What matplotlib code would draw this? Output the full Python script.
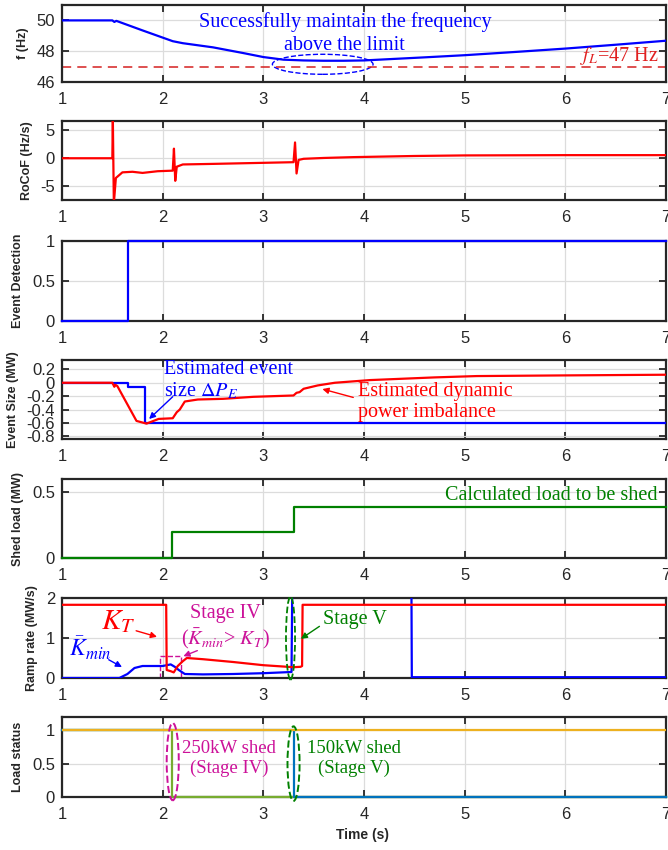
import numpy as np
import matplotlib
matplotlib.use('Agg')
import matplotlib.pyplot as plt
from matplotlib.patches import Ellipse, Rectangle
from matplotlib.ticker import FuncFormatter

plt.rcParams.update({
    'font.family': ['Liberation Sans', 'DejaVu Sans'],
    'mathtext.fontset': 'stix',
    'axes.unicode_minus': False,
})

SERIF = ['Liberation Serif', 'DejaVu Serif']
BLUE = '#0000ff'
RED = '#ff0000'
GREEN = '#008000'
MAGENTA = '#cc1199'
DARK = '#262626'

# Frequency (Hz)
FREQ_T = [1.0, 1.5, 1.52, 1.54, 1.8, 2.1, 2.2, 2.5, 2.8, 3.0, 3.2, 3.4, 3.6, 3.8,
          4.0, 4.3, 4.6, 5.0, 5.5, 6.0, 6.5, 7.0]
FREQ_HZ = [50.0, 50.0, 49.9, 49.97, 49.35, 48.65, 48.52, 48.25, 47.88, 47.62, 47.45,
           47.4, 47.38, 47.38, 47.4, 47.5, 47.6, 47.74, 47.95, 48.17, 48.42, 48.68]
FREQ_LIMIT = 47.0

# Rate of change of frequency (Hz/s)
ROCOF_T = [1.0, 1.5, 1.505, 1.515, 1.535, 1.6, 1.7, 1.8, 1.95, 2.1, 2.112, 2.125,
           2.14, 2.2, 2.5, 2.9, 3.3, 3.315, 3.33, 3.35, 3.4, 3.6, 3.9, 4.5, 5.0,
           6.0, 7.0]
ROCOF = [0.0, 0.0, 7.0, -8.0, -3.5, -2.5, -2.4, -2.6, -2.3, -2.2, 1.7, -4.0,
         -1.5, -1.1, -1.0, -0.85, -0.7, 2.8, -2.7, -0.3, -0.1, 0.05, 0.2, 0.4, 0.5,
         0.55, 0.55]

# Event detection flag
DETECT_T = [1.0, 1.66, 7.0]
DETECT = [0, 1, 1]

# Estimated event size and dynamic power imbalance (MW)
EVENT_T = [1.0, 1.66, 1.82, 7.0]
EVENT_MW = [0.0, -0.06, -0.6, -0.6]
IMB_T = [1.0, 1.5, 1.52, 1.53, 1.55, 1.74, 1.84, 1.96, 2.1, 2.14, 2.17, 2.22, 2.35,
         2.6, 2.9, 3.3, 3.33, 3.36, 3.4, 3.54, 3.71, 4.06, 4.7, 5.12, 6.0, 7.0]
IMB_MW = [0.0, 0.0, -0.06, -0.03, -0.05, -0.57, -0.61, -0.54, -0.53, -0.44, -0.4,
          -0.28, -0.25, -0.24, -0.21, -0.19, -0.15, -0.14, -0.09, -0.04, 0.0, 0.04,
          0.08, 0.1, 0.11, 0.12]

# Calculated load to be shed (MW)
SHED_T = [1.0, 2.09, 3.30, 7.0]
SHED_MW = [0.0, 0.2, 0.385, 0.385]

# Ramp rates (MW/s)
KT_T = [1.0, 2.035, 2.04, 2.08, 2.11, 2.15, 2.2, 2.24, 2.4, 2.7, 3.0, 3.3, 3.37,
        3.385, 3.39, 7.0]
KT = [1.83, 1.83, 0.2, 0.17, 0.14, 0.3, 0.42, 0.5, 0.47, 0.4, 0.32, 0.27, 0.28,
      0.3, 1.83, 1.83]
KMIN_T = [1.0, 1.57, 1.65, 1.72, 1.8, 1.9, 2.0, 2.08, 2.12, 2.16, 2.22, 2.4, 2.7,
          3.0, 3.28, 3.29, 4.47, 4.475, 7.0]
KMIN = [0.0, 0.0, 0.1, 0.25, 0.3, 0.3, 0.3, 0.34, 0.28, 0.2, 0.1, 0.09, 0.1, 0.12,
        0.15, 3.0, 3.0, 0.02, 0.02]

# Load breaker status
LOAD_T = [1.0, 2.09, 3.30, 7.0]
LOAD_A = [1, 1, 0, 0]
LOAD_B = [1, 0, 0, 0]
LOAD_C = [1, 1, 1, 1]

# Axes rows in pixels (top, bottom)
ROWS = [(5, 82), (121, 200), (241, 321), (360, 439), (479, 558), (598, 678), (717, 797)]
W, H = 668, 850
LEFT, RIGHT = 62, 666


def make_axes(fig, row, ylim, yticks, ylabel, label_x):
    top, bottom = ROWS[row]
    ax = fig.add_axes([LEFT / W, 1 - bottom / H, (RIGHT - LEFT) / W, (bottom - top) / H])
    ax.set_xlim(1, 7)
    ax.set_ylim(*ylim)
    ax.set_xticks(range(1, 8))
    ax.set_yticks(yticks)
    ax.yaxis.set_major_formatter(FuncFormatter(lambda v, p: '%g' % round(v, 3)))
    ax.grid(True, color='#dcdcdc', lw=0.9)
    ax.set_axisbelow(True)
    ax.tick_params(direction='in', length=5, width=1.3, top=True, right=True,
                   labelsize=12, colors=DARK, pad=5)
    ax.tick_params(axis='x', pad=7)
    for s in ax.spines.values():
        s.set_linewidth(1.6)
        s.set_color(DARK)
    ax.set_ylabel(ylabel, fontsize=9, fontweight='bold', color=DARK, va='center')
    ax.yaxis.set_label_coords((label_x - LEFT) / (RIGHT - LEFT), 0.5)
    return ax


def line(ax, t, v, color, **kw):
    # drawn above the box so traces on the limits stay visible
    ax.plot(t, v, color=color, lw=1.6, zorder=3, **kw)


def serif(ax, x, y, s, color, size=14.5, **kw):
    ax.text(x, y, s, color=color, fontsize=size, family=SERIF, **kw)


def arrow(ax, start, end, color):
    ax.annotate('', xy=end, xytext=start,
                arrowprops=dict(arrowstyle='-|>', color=color, lw=1.0, mutation_scale=9))


def main():
    fig = plt.figure(figsize=(W / 100, H / 100), dpi=100)

    # Frequency
    ax = make_axes(fig, 0, (46, 51), [46, 48, 50], 'f (Hz)', 23)
    line(ax, FREQ_T, FREQ_HZ, BLUE)
    ax.axhline(FREQ_LIMIT, color='#d42020', lw=1.1, ls=(0, (6, 4)))
    ax.add_patch(Ellipse((3.59, 47.15), 1.0, 1.3, fill=False, ec=BLUE, lw=1.0, ls='--'))
    serif(ax, 3.81, 49.15, 'Successfully maintain the frequency\nabove the limit', BLUE,
          ha='center', va='center', linespacing=1.25)
    serif(ax, 6.93, 47.7, '$f_L$=47 Hz', '#e02020', ha='right', va='center')

    # RoCoF
    ax = make_axes(fig, 1, (-7.4, 6.6), [-5, 0, 5], 'RoCoF (Hz/s)', 27)
    line(ax, ROCOF_T, ROCOF, RED)

    # Event detection
    ax = make_axes(fig, 2, (0, 1), [0, 0.5, 1], 'Event Detection', 18)
    line(ax, DETECT_T, DETECT, BLUE, drawstyle='steps-post', clip_on=False)

    # Event size
    ax = make_axes(fig, 3, (-0.84, 0.34), [-0.8, -0.6, -0.4, -0.2, 0, 0.2],
                   'Event Size (MW)', 13)
    line(ax, EVENT_T, EVENT_MW, BLUE, drawstyle='steps-post')
    line(ax, IMB_T, IMB_MW, RED)
    serif(ax, 2.01, 0.025, 'Estimated event\nsize $\\mathit{\\Delta}P_E$', BLUE,
          ha='left', va='center', linespacing=1.1)
    arrow(ax, (2.12, -0.18), (1.845, -0.57), BLUE)
    serif(ax, 3.94, -0.286, 'Estimated dynamic\npower imbalance', RED,
          ha='left', va='center', linespacing=1.1)
    arrow(ax, (3.92, -0.23), (3.56, -0.083), RED)

    # Shed load
    ax = make_axes(fig, 4, (0, 0.6), [0, 0.5], 'Shed load (MW)', 18)
    line(ax, SHED_T, SHED_MW, GREEN, drawstyle='steps-post', clip_on=False)
    serif(ax, 6.92, 0.477, 'Calculated load to be shed', GREEN, ha='right', va='center')

    # Ramp rates
    ax = make_axes(fig, 5, (0, 2), [0, 1, 2], 'Ramp rate (MW/s)', 32)
    line(ax, KMIN_T, KMIN, BLUE)
    line(ax, KT_T, KT, RED)
    ax.add_patch(Rectangle((1.97, 0.01), 0.21, 0.55, fill=False, ec=MAGENTA, lw=1.0, ls='--'))
    ax.add_patch(Ellipse((3.27, 1.0), 0.09, 2.08, fill=False, ec=GREEN, lw=1.3,
                         ls='--', clip_on=False, zorder=4))
    serif(ax, 1.56, 1.4, '$K_T$', RED, size=21, ha='center', va='center')
    arrow(ax, (1.71, 1.2), (1.97, 1.01), RED)
    serif(ax, 1.28, 0.74, '$\\bar{K}_{min}$', BLUE, size=17, ha='center', va='center')
    arrow(ax, (1.44, 0.49), (1.62, 0.24), BLUE)
    serif(ax, 2.62, 1.62, 'Stage IV', MAGENTA, ha='center', va='center')
    serif(ax, 2.62, 0.97, '($\\bar{K}_{min}$> $K_T$)', MAGENTA, ha='center', va='center')
    arrow(ax, (2.37, 0.71), (2.18, 0.52), MAGENTA)
    serif(ax, 3.59, 1.47, 'Stage V', GREEN, ha='left', va='center')
    arrow(ax, (3.58, 1.33), (3.35, 0.94), GREEN)

    # Load status
    ax = make_axes(fig, 6, (0, 1.2), [0, 0.5, 1], 'Load status', 18)
    line(ax, LOAD_T, LOAD_B, '#77ac30', drawstyle='steps-post', clip_on=False)
    line(ax, LOAD_T, LOAD_A, '#0072bd', drawstyle='steps-post', clip_on=False)
    line(ax, LOAD_T, LOAD_C, '#edb120', drawstyle='steps-post')
    ax.add_patch(Ellipse((2.1, 0.53), 0.12, 1.16, fill=False, ec=MAGENTA, lw=1.4,
                         ls='--', clip_on=False, zorder=4))
    ax.add_patch(Ellipse((3.30, 0.5), 0.12, 1.12, fill=False, ec=GREEN, lw=1.4,
                         ls='--', clip_on=False, zorder=4))
    serif(ax, 2.66, 0.575, '250kW shed\n(Stage IV)', MAGENTA, size=13.5,
          ha='center', va='center', linespacing=1.25)
    serif(ax, 3.9, 0.575, '150kW shed\n(Stage V)', GREEN, size=13.5,
          ha='center', va='center', linespacing=1.25)

    fig.text(363 / W, 1 - 835 / H, 'Time (s)', fontsize=10, fontweight='bold',
             color=DARK, ha='center', va='center')

    fig.savefig('out.png', dpi=100)


if __name__ == '__main__':
    main()
